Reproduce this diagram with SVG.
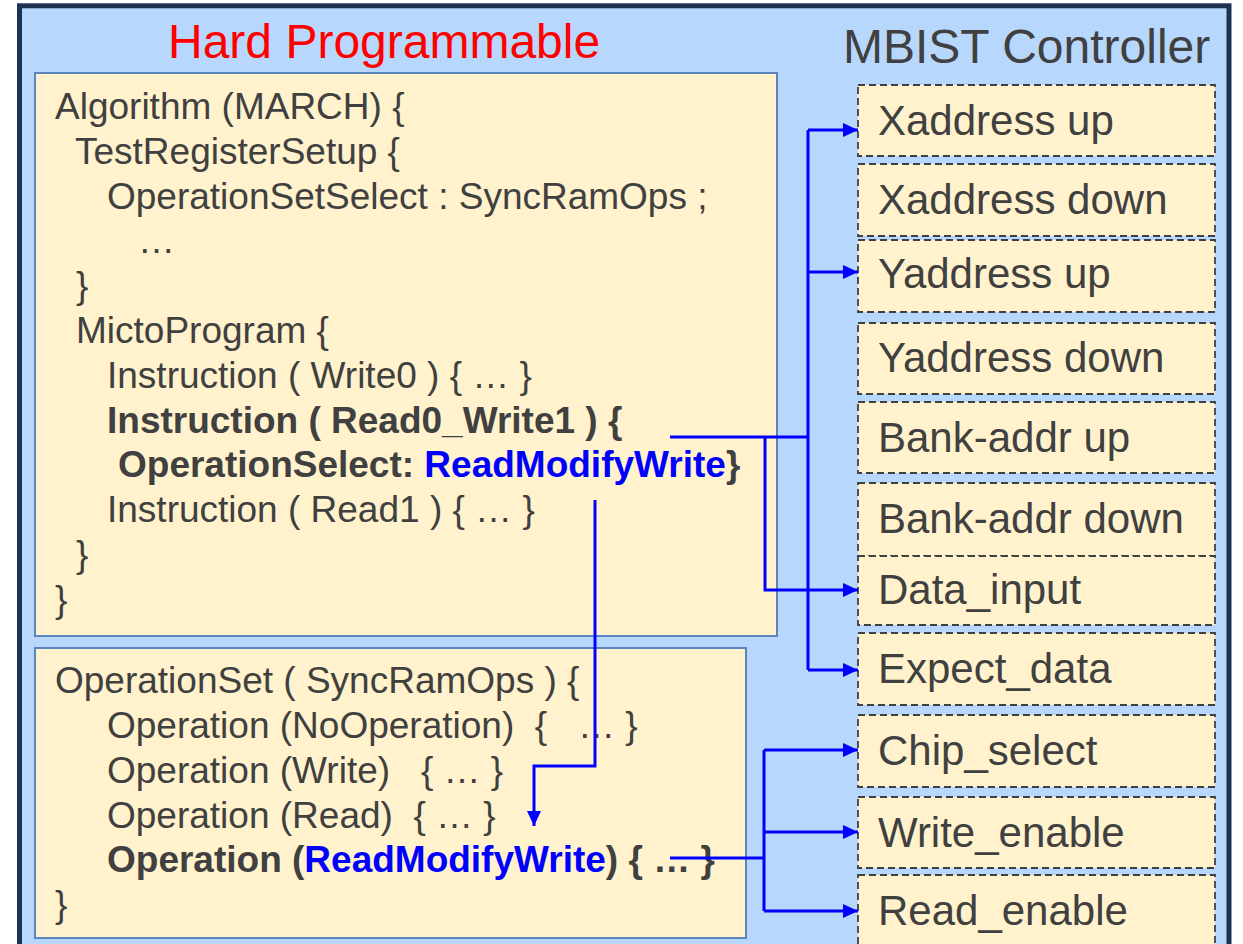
<svg xmlns="http://www.w3.org/2000/svg" width="1243" height="944" viewBox="0 0 1243 944">
<style>
.code{font-family:"Liberation Sans",Arial,sans-serif;font-size:37px;fill:#404040;}
.b{font-weight:bold;}
.blue{fill:#0000ff;}
.lbl{font-family:"Liberation Sans",Arial,sans-serif;font-size:42px;fill:#404040;}
.sig{fill:#fff2cc;stroke:#404040;stroke-width:1.8;stroke-dasharray:7 4;}
.codebox{fill:#fff2cc;stroke:#5a84bd;stroke-width:2;}
.conn{fill:none;stroke:#0000ff;stroke-width:3;}
</style>
<defs>
<marker id="arr" markerUnits="userSpaceOnUse" markerWidth="15" markerHeight="14" refX="15" refY="7" orient="auto">
<path d="M0,0 L15,7 L0,14 z" fill="#0000ff"/>
</marker>
</defs>
<rect width="1243" height="944" fill="#ffffff"/>
<g id="frame">
<rect x="19.5" y="5.8" width="1209.5" height="980" fill="#b7d7fc" stroke="#1d3252" stroke-width="5"/>
<text x="168" y="58" style="font-family:'Liberation Sans',Arial,sans-serif;font-size:48px;fill:#ff0000">Hard Programmable</text>
<text x="843" y="63" style="font-family:'Liberation Sans',Arial,sans-serif;font-size:48px;fill:#404040">MBIST Controller</text>
</g>
<g id="algorithm">
<rect class="codebox" x="35" y="73" width="742" height="563"/>
<text class="code" xml:space="preserve"><tspan x="55" y="119">Algorithm (MARCH) {</tspan><tspan x="75" y="164">TestRegisterSetup {</tspan><tspan x="107" y="209">OperationSetSelect : SyncRamOps ;</tspan><tspan x="138" y="253">…</tspan><tspan x="76" y="298">}</tspan><tspan x="76" y="343">MictoProgram {</tspan><tspan x="107" y="388">Instruction ( Write0 ) { … }</tspan><tspan x="107" y="433" class="b">Instruction ( Read0_Write1 ) {</tspan><tspan x="118" y="477" class="b">OperationSelect: <tspan class="blue">ReadModifyWrite</tspan>}</tspan><tspan x="107" y="522">Instruction ( Read1 ) { … }</tspan><tspan x="76" y="567">}</tspan><tspan x="55" y="612">}</tspan></text>
</g>
<g id="operationset">
<rect class="codebox" x="35" y="648" width="711" height="290"/>
<text class="code" xml:space="preserve"><tspan x="55" y="693">OperationSet ( SyncRamOps ) {</tspan><tspan x="107" y="738">Operation (NoOperation)  {   … }</tspan><tspan x="107" y="783">Operation (Write)   { … }</tspan><tspan x="107" y="828">Operation (Read)  { … }</tspan><tspan x="107" y="872" class="b">Operation (<tspan class="blue">ReadModifyWrite</tspan>) { … }</tspan><tspan x="55" y="917">}</tspan></text>
</g>
<g id="xaddr-up"><rect class="sig" x="858" y="85" width="357" height="71"/><text class="lbl" x="878" y="135">Xaddress up</text></g>
<g id="xaddr-down"><rect class="sig" x="858" y="164" width="357" height="72"/><text class="lbl" x="878" y="214">Xaddress down</text></g>
<g id="yaddr-up"><rect class="sig" x="858" y="240" width="357" height="72"/><text class="lbl" x="878" y="288">Yaddress up</text></g>
<g id="yaddr-down"><rect class="sig" x="858" y="323" width="357" height="71"/><text class="lbl" x="878" y="372">Yaddress down</text></g>
<g id="bank-up"><rect class="sig" x="858" y="402" width="357" height="71"/><text class="lbl" x="878" y="452">Bank-addr up</text></g>
<g id="bank-down"><rect class="sig" x="858" y="483" width="357" height="73"/><text class="lbl" x="878" y="533">Bank-addr down</text></g>
<g id="data-input"><rect class="sig" x="858" y="556" width="357" height="69"/><text class="lbl" x="878" y="604">Data_input</text></g>
<g id="expect-data"><rect class="sig" x="858" y="633" width="357" height="72"/><text class="lbl" x="878" y="683">Expect_data</text></g>
<g id="chip-select"><rect class="sig" x="858" y="715" width="357" height="72"/><text class="lbl" x="878" y="765">Chip_select</text></g>
<g id="write-enable"><rect class="sig" x="858" y="797" width="357" height="71"/><text class="lbl" x="878" y="847">Write_enable</text></g>
<g id="read-enable"><rect class="sig" x="858" y="875" width="357" height="90"/><text class="lbl" x="878" y="925">Read_enable</text></g>
<g id="connectors">
<path class="conn" d="M670,437 H809"/>
<path class="conn" d="M808,130 V670"/>
<path class="conn" d="M808,130 H858" marker-end="url(#arr)"/>
<path class="conn" d="M808,272 H858" marker-end="url(#arr)"/>
<path class="conn" d="M808,670 H858" marker-end="url(#arr)"/>
<path class="conn" d="M765,437 V590 H858" marker-end="url(#arr)"/>
<path class="conn" d="M595,500 V766 H534 V826" marker-end="url(#arr)"/>
<path class="conn" d="M670,858 H765"/>
<path class="conn" d="M764,750 V911"/>
<path class="conn" d="M764,750 H858" marker-end="url(#arr)"/>
<path class="conn" d="M764,832 H858" marker-end="url(#arr)"/>
<path class="conn" d="M764,911 H858" marker-end="url(#arr)"/>
</g>
</svg>
